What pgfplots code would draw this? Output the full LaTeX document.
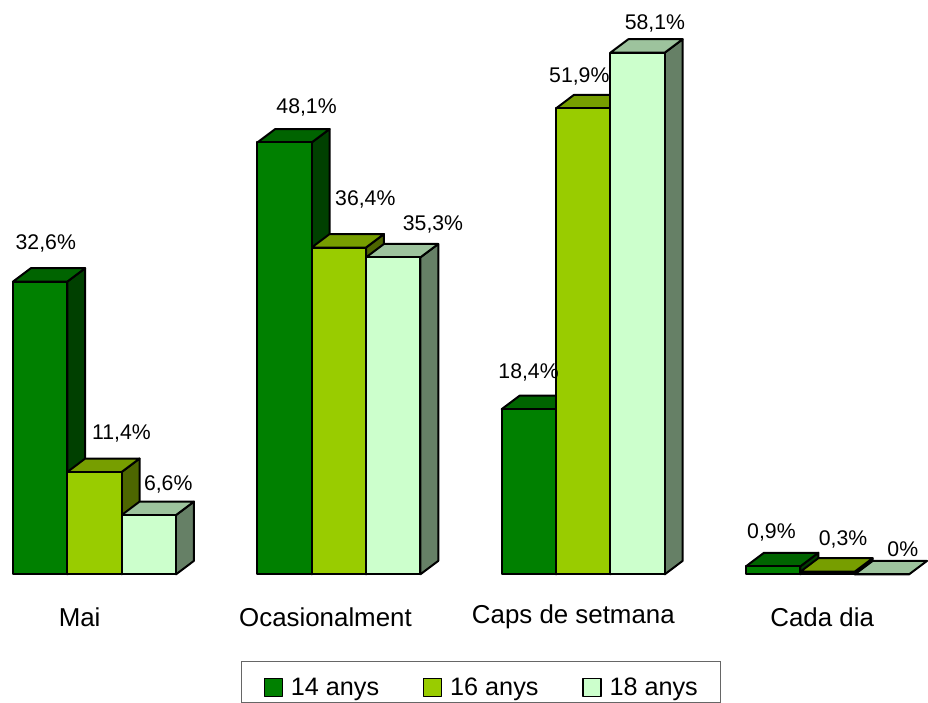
\documentclass[border=0pt]{standalone}
\usepackage{pgfplots}
\pgfplotsset{compat=1.18}
\usepackage{fontspec}
\setmainfont{Liberation Sans}
\definecolor{gAf}{HTML}{008000}
\definecolor{gAt}{HTML}{006400}
\definecolor{gAs}{HTML}{004000}
\definecolor{gBf}{HTML}{99CC00}
\definecolor{gBt}{HTML}{779E00}
\definecolor{gBs}{HTML}{4D6600}
\definecolor{gCf}{HTML}{CCFFCC}
\definecolor{gCt}{HTML}{9DC39D}
\definecolor{gCs}{HTML}{668066}
\pgfplotsset{
  face/.style={draw=black, line width=1.5pt, line join=round, forget plot},
  sq/.style={legend image code/.code={\draw[##1, line width=1pt] (0pt,-11pt) rectangle (13.5pt,2.5pt);}},
  front/.style={ybar, bar width=54.6, bar shift=0pt, draw=black, line width=1.5pt, line join=round, sq},
}
\begin{document}
\begin{tikzpicture}
\begin{axis}[
  x=0.75pt, y=6.765pt,
  xmin=0, xmax=932, ymin=-13.97, ymax=63.97,
  clip=false,
  axis line style={draw=none},
  tick style={draw=none},
  ytick=\empty,
  xtick={80,327,576,826},
  xticklabels={Mai,Ocasionalment,Caps de setmana,Cada dia},
  xticklabel style={font=\fontsize{19.5}{22}\selectfont, anchor=center, yshift=62.3pt},
  legend columns=3,
  legend cell align=left,
  legend style={at={(0.5182,0.0556)}, anchor=north, draw=black!60, line width=0.8pt,
    font=\fontsize{19}{22}\selectfont, inner xsep=17pt, inner ysep=1pt,
    nodes={inner xsep=0pt, inner ysep=0pt, text height=24.5pt, text depth=4.25pt},
    /tikz/every odd column/.append style={column sep=6pt},
    /tikz/every even column/.append style={column sep=33pt}},
]
% side faces
\addplot[face, fill=gAs] coordinates {(67.6,0)(67.6,32.6)(85.6,34.1)(85.6,1.5)} -- cycle;
\addplot[face, fill=gBs] coordinates {(122.2,0)(122.2,11.4)(140.2,12.9)(140.2,1.5)} -- cycle;
\addplot[face, fill=gCs] coordinates {(176.8,0)(176.8,6.6)(194.8,8.1)(194.8,1.5)} -- cycle;
\addplot[face, fill=gAs] coordinates {(313.1,0)(313.1,48.1)(331.1,49.6)(331.1,1.5)} -- cycle;
\addplot[face, fill=gBs] coordinates {(367.7,0)(367.7,36.4)(385.7,37.9)(385.7,1.5)} -- cycle;
\addplot[face, fill=gCs] coordinates {(422.3,0)(422.3,35.3)(440.3,36.8)(440.3,1.5)} -- cycle;
\addplot[face, fill=gAs] coordinates {(558.6,0)(558.6,18.4)(576.6,19.9)(576.6,1.5)} -- cycle;
\addplot[face, fill=gBs] coordinates {(613.2,0)(613.2,51.9)(631.2,53.4)(631.2,1.5)} -- cycle;
\addplot[face, fill=gCs] coordinates {(667.8,0)(667.8,58.1)(685.8,59.6)(685.8,1.5)} -- cycle;
\addplot[face, fill=gAs] coordinates {(804.1,0)(804.1,0.9)(822.1,2.4)(822.1,1.5)} -- cycle;
\addplot[face, fill=gBs] coordinates {(858.7,0)(858.7,0.3)(876.7,1.8)(876.7,1.5)} -- cycle;
% top faces
\addplot[face, fill=gAt] coordinates {(13,32.6)(67.6,32.6)(85.6,34.1)(31,34.1)} -- cycle;
\addplot[face, fill=gBt] coordinates {(67.6,11.4)(122.2,11.4)(140.2,12.9)(85.6,12.9)} -- cycle;
\addplot[face, fill=gCt] coordinates {(122.2,6.6)(176.8,6.6)(194.8,8.1)(140.2,8.1)} -- cycle;
\addplot[face, fill=gAt] coordinates {(258.5,48.1)(313.1,48.1)(331.1,49.6)(276.5,49.6)} -- cycle;
\addplot[face, fill=gBt] coordinates {(313.1,36.4)(367.7,36.4)(385.7,37.9)(331.1,37.9)} -- cycle;
\addplot[face, fill=gCt] coordinates {(367.7,35.3)(422.3,35.3)(440.3,36.8)(385.7,36.8)} -- cycle;
\addplot[face, fill=gAt] coordinates {(504,18.4)(558.6,18.4)(576.6,19.9)(522,19.9)} -- cycle;
\addplot[face, fill=gBt] coordinates {(558.6,51.9)(613.2,51.9)(631.2,53.4)(576.6,53.4)} -- cycle;
\addplot[face, fill=gCt] coordinates {(613.2,58.1)(667.8,58.1)(685.8,59.6)(631.2,59.6)} -- cycle;
\addplot[face, fill=gAt] coordinates {(749.5,0.9)(804.1,0.9)(822.1,2.4)(767.5,2.4)} -- cycle;
\addplot[face, fill=gBt] coordinates {(804.1,0.3)(858.7,0.3)(876.7,1.8)(822.1,1.8)} -- cycle;
\addplot[face, fill=gCt] coordinates {(858.7,0)(913.3,0)(931.3,1.5)(876.7,1.5)} -- cycle;
% value labels
\addplot[forget plot, only marks, mark=none, point meta=explicit symbolic,
  nodes near coords={\pgfplotspointmeta\%},
  every node near coord/.append style={anchor=center, inner sep=0pt, text=black, font=\fontsize{16}{18}\selectfont}]
  table[meta=lab] {
x y lab
46 36.8 32,6
122 15.7 11,4
169 10.0 6,6
308 52.0 48,1
367 41.8 36,4
435 39.0 35,3
531 22.5 18,4
582 55.5 51,9
658 61.4 58,1
775 4.7 0,9
847 3.9 0,3
907 2.8 0
};
% front faces
\addplot[front, fill=gAf] coordinates {(40.3,32.6)(285.8,48.1)(531.3,18.4)(776.8,0.9)};
\addlegendentry{14 anys}
\addplot[front, fill=gBf] coordinates {(94.9,11.4)(340.4,36.4)(585.9,51.9)(831.4,0.3)};
\addlegendentry{16 anys}
\addplot[front, fill=gCf] coordinates {(149.5,6.6)(395,35.3)(640.5,58.1)(886,0)};
\addlegendentry{18 anys}
\end{axis}
\end{tikzpicture}
\end{document}
